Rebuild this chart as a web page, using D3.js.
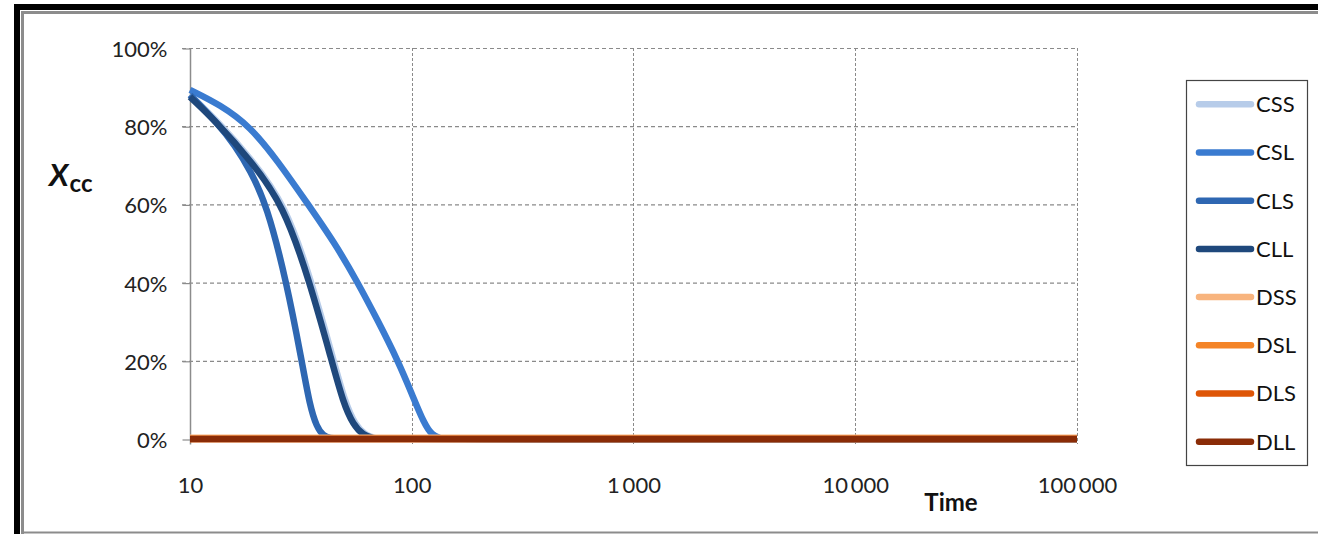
<!DOCTYPE html>
<html>
<head>
<meta charset="utf-8">
<script src="https://cdn.jsdelivr.net/npm/d3@7"></script>
<style>
  html, body { margin: 0; padding: 0; background: #fff; }
  svg { display: block; font-family: Lato, "Open Sans", sans-serif; }
</style>
</head>
<body>
<svg id="chart" width="1318" height="534"></svg>
<script>
// Series names, colours and sampled points (time, percent)
const seriesNames = ["CSS", "CSL", "CLS", "CLL", "DSS", "DSL", "DLS", "DLL"];
const seriesColors = ["#b7cce9", "#3a7bd0", "#2e67b2", "#1f487c", "#f8b47e", "#f48427", "#de5607", "#8a2c07"];

const cssTime = [10, 13.47, 19.04, 26.9, 35.5, 44.46, 50.16, 55.65, 61.73, 68.3, 77.3, 100000];
const cssPct  = [88, 81, 71.4, 60, 40, 20, 9.2, 3.6, 1, 0.1, 0, 0];

const cslTime = [10, 13.66, 18.64, 24.94, 33.6, 45.07, 56.46, 69.99, 86.7, 101, 113.6, 123.4, 134.1, 148.8, 100000];
const cslPct  = [89.3, 85.5, 80, 71, 60.5, 50, 40.5, 30.5, 20, 11, 4, 1, 0.1, 0, 0];

const clsTime = [10, 13.2, 16.0, 18.64, 22.18, 27.3, 31.9, 34.76, 37.27, 39.9, 42.8, 47.5, 100000];
const clsPct  = [88, 81, 75, 68.8, 60, 40, 20, 8.3, 3.1, 0.8, 0.2, 0, 0];

const cllTime = [10, 13.2, 18.64, 26.35, 34.76, 43.55, 49.13, 54.5, 60.45, 66.9, 75.5, 100000];
const cllPct  = [87.5, 81, 71.4, 60, 40, 20, 9.2, 3.6, 1, 0.1, 0, 0];

const dssTime = [10, 100000];
const dssPct  = [0.3, 0.3];
const dslTime = [10, 100000];
const dslPct  = [0, 0];
const dlsTime = [10, 100000];
const dlsPct  = [0, 0];
const dllTime = [10, 100000];
const dllPct  = [0, 0];

const xTicks = [10, 100, 1000, 10000, 100000];
const yTicks = [0, 0.2, 0.4, 0.6, 0.8, 1.0];

const seriesTimes = [cssTime, cslTime, clsTime, cllTime, dssTime, dslTime, dlsTime, dllTime];
const seriesPcts  = [cssPct, cslPct, clsPct, cllPct, dssPct, dslPct, dlsPct, dllPct];

const series = seriesNames.map((name, i) => ({
  name,
  color: seriesColors[i],
  points: seriesTimes[i].map((t, j) => ({ t, v: seriesPcts[i][j] / 100 }))
}));

const svg = d3.select("#chart");

// Outer frame
svg.append("path").attr("d", "M17,534 V7 H1318")
  .attr("fill", "none").attr("stroke", "#000").attr("stroke-width", 6);
svg.append("path").attr("d", "M22.5,534 V12.5 H1318")
  .attr("fill", "none").attr("stroke", "#8c8c8c").attr("stroke-width", 3);
svg.append("line").attr("x1", 22).attr("x2", 1318).attr("y1", 532.5).attr("y2", 532.5)
  .attr("stroke", "#8c8c8c").attr("stroke-width", 2);

const x = d3.scaleLog().domain([10, 100000]).range([190, 1077]);
const y = d3.scaleLinear().domain([0, 1]).range([439, 48]);

// Horizontal dashed gridlines
svg.append("g").selectAll("line").data(yTicks.filter(d => d > 0)).join("line")
  .attr("x1", 182).attr("x2", x.range()[1])
  .attr("y1", d => y(d) + 0.5).attr("y2", d => y(d) + 0.5)
  .attr("stroke", "#8a8a8a").attr("stroke-width", 1.2).attr("stroke-dasharray", "4,3");

// Vertical dashed gridlines
svg.append("g").selectAll("line").data(xTicks.slice(1)).join("line")
  .attr("x1", d => Math.round(x(d)) + 0.5).attr("x2", d => Math.round(x(d)) + 0.5)
  .attr("y1", y(1)).attr("y2", y(0) + 5)
  .attr("stroke", "#8a8a8a").attr("stroke-width", 1).attr("stroke-dasharray", "3,2");

// Y axis
const yAxis = svg.append("g").attr("transform", "translate(190.5,0.5)")
  .call(d3.axisLeft(y).tickValues(yTicks).tickSize(8).tickPadding(15).tickFormat(d3.format(".0%")));
yAxis.select(".domain").attr("d", `M0,${y(1)}V${y(0) + 5}`).attr("stroke", "#8c8c8c").attr("stroke-width", 1.5);
yAxis.selectAll(".tick line").attr("stroke", "#8c8c8c").attr("stroke-width", 1.2);
yAxis.selectAll(".tick text").attr("font-size", 22).attr("fill", "#222").attr("font-family", "Lato")
  .attr("dy", "0.36em");

// X axis labels
const xAxis = svg.append("g").attr("transform", `translate(0,${y(0)})`)
  .call(d3.axisBottom(x).tickValues(xTicks).tickSize(0).tickPadding(38)
    .tickFormat(d => d3.format(",")(d).replace(/,/g, "\u2009")));
xAxis.select(".domain").remove();
xAxis.selectAll(".tick text").attr("font-size", 22).attr("fill", "#222").attr("font-family", "Lato");

// Axis titles
svg.append("text").attr("x", 951).attr("y", 511).attr("text-anchor", "middle")
  .attr("font-size", 24).attr("font-weight", "bold").attr("fill", "#111").text("Time");

const yTitle = svg.append("text").attr("x", 49).attr("y", 186).attr("fill", "#111").attr("font-weight", "bold");
yTitle.append("tspan").attr("font-size", 31).attr("font-style", "italic").text("X");
yTitle.append("tspan").attr("font-size", 24).attr("dy", 6).attr("dx", 1).text("cc");

// Series lines, smoothed through the sampled points
const line = d3.line().x(d => x(d.t)).y(d => y(d.v)).curve(d3.curveBasis);
svg.append("g").selectAll("path").data(series).join("path")
  .attr("d", d => line(d.points))
  .attr("fill", "none")
  .attr("stroke", d => d.color)
  .attr("stroke-width", 6.5)
  .attr("stroke-linejoin", "round");

// Legend
svg.append("rect").attr("x", 1186.5).attr("y", 80.5).attr("width", 121).attr("height", 385)
  .attr("fill", "#fff").attr("stroke", "#444").attr("stroke-width", 1.2);
const leg = svg.append("g").selectAll("g").data(series).join("g")
  .attr("transform", (d, i) => `translate(0,${104.3 + i * 48.2})`);
leg.append("line").attr("x1", 1199).attr("x2", 1251).attr("y1", 0).attr("y2", 0)
  .attr("stroke", d => d.color).attr("stroke-width", 6.5).attr("stroke-linecap", "round");
leg.append("text").attr("x", 1256).attr("y", 0).attr("dy", "0.36em")
  .attr("font-size", 22).attr("fill", "#111").text(d => d.name);
</script>
</body>
</html>
